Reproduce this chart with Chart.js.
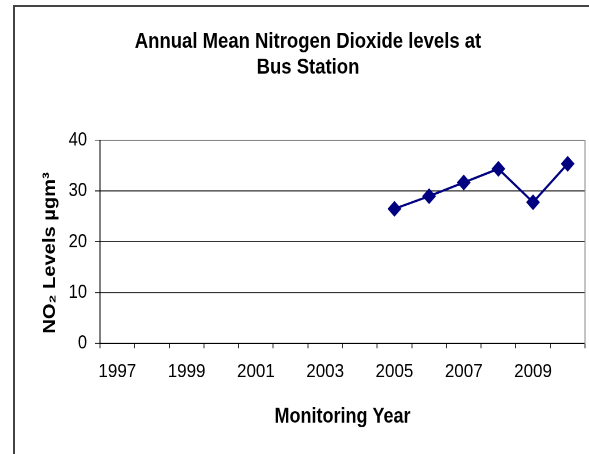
<!DOCTYPE html>
<html>
<head>
<meta charset="utf-8">
<script src="https://cdn.jsdelivr.net/npm/chart.js@4"></script>
<style>
  html, body { margin: 0; padding: 0; background: #fff; overflow: hidden; }
  /* il grafico originale e' leggermente stirato in verticale */
  #wrap { position: absolute; left: 0; top: 0; width: 640px; height: 395px;
          transform: scaleY(1.15); transform-origin: 0 0; }
  #frame { position: absolute; left: 13px; top: 5px; width: 700px; height: 600px;
           border-left: 2px solid #444; border-top: 2px solid #444; pointer-events: none; }
</style>
</head>
<body>
<div id="wrap"><canvas id="no2Chart" width="640" height="395"></canvas></div>
<div id="frame"></div>
<script>
// dati
var anni = ['1997', '1998', '1999', '2000', '2001', '2002', '2003', '2004',
            '2005', '2006', '2007', '2008', '2009', '2010'];
var livelliNO2 = [null, null, null, null, null, null, null, null,
                  26.5, 29.0, 31.7, 34.4, 27.8, 35.4];
var tickY = [0, 10, 20, 30, 40];

var fontSans = "'Liberation Sans', Arial, sans-serif";

var ctx = document.getElementById('no2Chart').getContext('2d');
var grafico = new Chart(ctx, {
    type: 'line',
    data: {
        labels: anni,
        datasets: [{
            label: 'NO2',
            data: livelliNO2,
            borderColor: '#000080',
            backgroundColor: '#000080',
            borderWidth: 2,
            pointStyle: 'rectRot',
            pointRadius: 5.5,
            pointHoverRadius: 5.5,
            tension: 0
        }]
    },
    options: {
        responsive: false,
        animation: false,
        devicePixelRatio: 2,
        layout: { padding: { left: 14, right: 38, top: 0, bottom: 0 } },
        plugins: {
            legend: { display: false },
            tooltip: { enabled: false },
            title: {
                display: true,
                text: ['Annual Mean Nitrogen Dioxide levels at', 'Bus Station'],
                color: '#000',
                font: { family: fontSans, size: 18.5, weight: 'bold', lineHeight: 1.22 },
                padding: { top: 25, bottom: 52 }
            }
        },
        scales: {
            x: {
                type: 'category',
                offset: true,
                grid: { offset: true, drawOnChartArea: false, tickLength: 4.5, color: '#333' },
                border: { color: '#000', width: 1 },
                ticks: {
                    autoSkip: false,
                    maxRotation: 0,
                    color: '#000',
                    padding: 10.5,
                    font: { family: fontSans, size: 17 },
                    callback: function (val, i) { return i % 2 === 0 ? this.getLabelForValue(val) : ''; }
                },
                title: {
                    display: true,
                    text: 'Monitoring Year',
                    color: '#000',
                    font: { family: fontSans, size: 18, weight: 'bold', lineHeight: 1.2 },
                    padding: { top: 0, bottom: 21.5 }
                },
                afterFit: function (scale) { scale.height = 96.7; }
            },
            y: {
                min: 0,
                max: 40,
                afterBuildTicks: function (scale) { scale.ticks = tickY.map(v => ({ value: v })); },
                grid: {
                    tickLength: 5,
                    color: function (c) { return c.tick && c.tick.value === 40 ? '#888' : '#333'; }
                },
                border: { color: '#000', width: 1 },
                ticks: {
                    color: '#000',
                    padding: 8,
                    font: { family: fontSans, size: 16.5 }
                },
                title: {
                    display: true,
                    text: 'NO\u2082 Levels \u00B5gm\u00B3    ',
                    color: '#000',
                    font: { family: fontSans, size: 17.5, weight: 'bold', lineHeight: 1.2 },
                    padding: { top: 25.5, bottom: 0 }
                },
                afterFit: function (scale) { scale.width = 86; }
            },
            // asse fittizio a destra: serve solo per il bordo grigio
            y2: {
                position: 'right',
                min: 0,
                max: 40,
                grid: { display: false },
                ticks: { display: false },
                border: { color: '#888', width: 1 },
                afterFit: function (scale) { scale.width = 17; }
            }
        }
    }
});
</script>
</body>
</html>
